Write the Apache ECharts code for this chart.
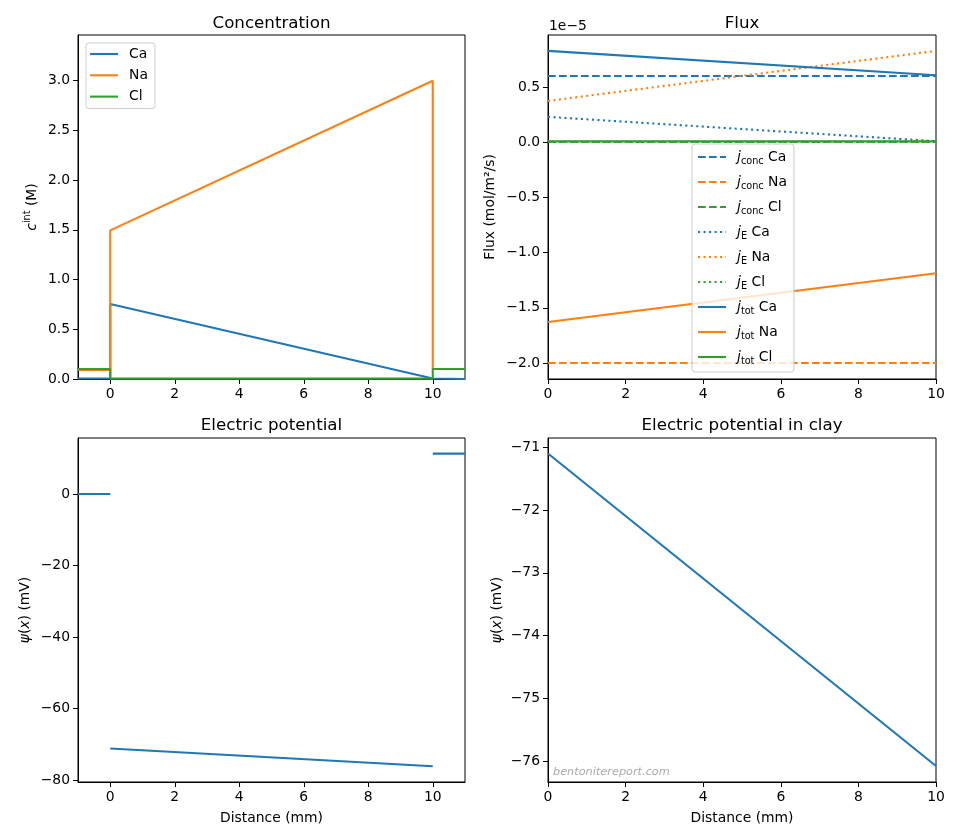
<!DOCTYPE html>
<html><head><meta charset="utf-8">
<script src="https://cdn.jsdelivr.net/npm/echarts@6/dist/echarts.min.js"></script>
<style>html,body{margin:0;padding:0;background:#fff}#c{width:960px;height:840px}</style>
</head><body><div id="c"></div>
<script>
const FONT = 'DejaVu Sans';
const C1 = '#1f77b4', C2 = '#ff7f0e', C3 = '#2ca02c';

// ---- Concentration (M) ----
const concX  = [-1, 0, 0, 10, 10, 11];
const concCa = [0.005, 0.005, 0.755, 0.005, 0.0, 0.0];
const concNa = [0.09, 0.09, 1.495, 3.0, 0.1, 0.1];
const concCl = [0.1, 0.1, 0.004, 0.004, 0.1, 0.1];

// ---- Flux (units of 1e-5 mol/m2/s) ----
const fluxX   = [0, 10];
const jConcCa = [0.60, 0.60];
const jConcNa = [-2.0, -2.0];
const jConcCl = [0.005, 0.005];
const jECa    = [0.23, 0.01];
const jENa    = [0.375, 0.828];
const jECl    = [0.003, 0.003];
const jTotCa  = [0.828, 0.607];
const jTotNa  = [-1.628, -1.186];
const jTotCl  = [0.008, 0.008];

// ---- Electric potential (mV) ----
const potLeftX  = [-1, 0];   const potLeft  = [0, 0];
const potClayX  = [0, 10];   const potClay  = [-71.1, -76.08];
const potRightX = [10, 11];  const potRight = [11.26, 11.26];

// ---- Ticks ----
const concXTicks = [0, 2, 4, 6, 8, 10];
const concYTicks = [0, 0.5, 1, 1.5, 2, 2.5, 3];
const fluxXTicks = [0, 2, 4, 6, 8, 10];
const fluxYTicks = [-2, -1.5, -1, -0.5, 0, 0.5];
const potYTicks  = [-80, -60, -40, -20, 0];
const clayYTicks = [-76, -75, -74, -73, -72, -71];

const minus = s => String(s).replace('-', '\u2212');
const fmt = d => v => minus(Number(v).toFixed(d));

const grids = [
  {left: 78,  top: 35,  width: 387, height: 344},
  {left: 548, top: 35,  width: 388, height: 344},
  {left: 78,  top: 438, width: 387, height: 344},
  {left: 548, top: 438, width: 388, height: 344}
].map(g => Object.assign(g, {show: true, borderColor: '#000', borderWidth: 1, backgroundColor: 'transparent'}));

const labelStyle = {color: '#000', fontFamily: FONT, fontSize: 13.9};
function axis(kind, gi, min, max, ticks, dec, name, nameGap, rich) {
  return {
    type: 'value', gridIndex: gi, min, max,
    axisLine: {show: true, onZero: false, lineStyle: {color: '#000', width: 1}},
    axisTick: {show: true, customValues: ticks, length: 5, inside: false, lineStyle: {color: '#000', width: 1}},
    axisLabel: Object.assign({customValues: ticks, formatter: fmt(dec), margin: 8}, labelStyle),
    splitLine: {show: false},
    name: name || '', nameLocation: 'middle', nameGap: nameGap || 0,
    nameTextStyle: Object.assign({rich: rich || {}}, labelStyle)
  };
}
const richPsi = {i: {fontStyle: 'italic', fontFamily: FONT, fontSize: 13.9, color: '#000'}};
const richC = {
  i: {fontStyle: 'italic', fontFamily: FONT, fontSize: 13.9, color: '#000', lineHeight: 20},
  sup: {fontFamily: FONT, fontSize: 9.7, color: '#000', verticalAlign: 'top', lineHeight: 20}
};

const xAxes = [
  axis('x', 0, -1, 11, concXTicks, 0),
  axis('x', 1, 0, 10, fluxXTicks, 0),
  axis('x', 2, -1, 11, concXTicks, 0, 'Distance (mm)', 29),
  axis('x', 3, 0, 10, fluxXTicks, 0, 'Distance (mm)', 29)
];
const yAxes = [
  axis('y', 0, 0, 3.46, concYTicks, 1, '{i|c}{sup|int} (M)', 36, richC),
  axis('y', 1, -2.145, 0.972, fluxYTicks, 1, 'Flux (mol/m\u00b2/s)', 51),
  axis('y', 2, -80.47, 15.63, potYTicks, 0, '{i|\u03c8}({i|x}) (mV)', 46, richPsi),
  axis('y', 3, -76.335, -70.852, clayYTicks, 0, '{i|\u03c8}({i|x}) (mV)', 44, richPsi)
];

function line(name, xs, ys, color, type, gi) {
  return {
    type: 'line', name, xAxisIndex: gi, yAxisIndex: gi,
    data: xs.map((x, i) => [x, ys[i]]),
    symbol: 'none', showSymbol: false, animation: false,
    lineStyle: {color, width: 2.08, type},
    itemStyle: {color}
  };
}
const DASH = [7.7, 3.3], DOT = [2.1, 3.4];

const series = [
  line('Ca', concX, concCa, C1, 'solid', 0),
  line('Na', concX, concNa, C2, 'solid', 0),
  line('Cl', concX, concCl, C3, 'solid', 0),
  line('j_conc Ca', fluxX, jConcCa, C1, DASH, 1),
  line('j_conc Na', fluxX, jConcNa, C2, DASH, 1),
  line('j_conc Cl', fluxX, jConcCl, C3, DASH, 1),
  line('j_E Ca', fluxX, jECa, C1, DOT, 1),
  line('j_E Na', fluxX, jENa, C2, DOT, 1),
  line('j_E Cl', fluxX, jECl, C3, DOT, 1),
  line('j_tot Ca', fluxX, jTotCa, C1, 'solid', 1),
  line('j_tot Na', fluxX, jTotNa, C2, 'solid', 1),
  line('j_tot Cl', fluxX, jTotCl, C3, 'solid', 1),
  line('psiL', potLeftX, potLeft, C1, 'solid', 2),
  line('psiC', potClayX, potClay, C1, 'solid', 2),
  line('psiR', potRightX, potRight, C1, 'solid', 2),
  line('psiClay', potClayX, potClay, C1, 'solid', 3)
];

const titleStyle = {fontFamily: FONT, fontSize: 16.7, fontWeight: 'normal', color: '#000'};
const titles = [
  {text: 'Concentration', left: 271.5, top: 15},
  {text: 'Flux', left: 742, top: 15},
  {text: 'Electric potential', left: 271.5, top: 417},
  {text: 'Electric potential in clay', left: 742, top: 417}
].map(t => Object.assign(t, {textAlign: 'center', padding: 0, textStyle: titleStyle}));

const legendBase = {
  orient: 'vertical', itemWidth: 28, itemHeight: 14,
  backgroundColor: 'rgba(255,255,255,0.8)', borderColor: '#cccccc', borderWidth: 1, borderRadius: 3,
  inactiveColor: '#ccc', selectedMode: false,
  itemStyle: {color: 'rgba(0,0,0,0)', opacity: 0, borderWidth: 0},
  lineStyle: {width: 2.08}
};
const legendRich = {
  i: {fontStyle: 'italic', fontFamily: FONT, fontSize: 13.9, color: '#000', lineHeight: 18},
  s: {fontFamily: FONT, fontSize: 9.7, color: '#000', verticalAlign: 'bottom', lineHeight: 18},
  t: {fontFamily: FONT, fontSize: 13.9, color: '#000', lineHeight: 18}
};
const legends = [
  Object.assign({}, legendBase, {
    left: 86, top: 43, padding: [4, 7, 5, 3], itemGap: 7.3,
    data: ['Ca', 'Na', 'Cl'],
    textStyle: {fontFamily: FONT, fontSize: 13.9, color: '#000', lineHeight: 14, padding: [0, 0, 0, 6]}
  }),
  Object.assign({}, legendBase, {
    left: 692, top: 144, padding: [6, 7, 6, 5], itemGap: 9,
    data: ['j_conc Ca', 'j_conc Na', 'j_conc Cl', 'j_E Ca', 'j_E Na', 'j_E Cl', 'j_tot Ca', 'j_tot Na', 'j_tot Cl'],
    formatter: n => {
      const m = n.match(/^j_(\w+) (\w+)$/);
      return '{i|j}{s|' + m[1] + '}{t| ' + m[2] + '}';
    },
    textStyle: {fontFamily: FONT, fontSize: 13.9, color: '#000', rich: legendRich, padding: [0, 0, 0, 6]}
  })
];

const chart = echarts.init(document.getElementById('c'), null, {renderer: 'canvas'});
chart.setOption({
  backgroundColor: '#fff',
  animation: false,
  title: titles,
  grid: grids,
  xAxis: xAxes,
  yAxis: yAxes,
  legend: legends,
  series,
  graphic: [
    {type: 'text', left: 549, top: 19, style: {text: '1e\u22125', fontFamily: FONT, fontSize: 13.9, fill: '#000'}},
    {type: 'text', left: 553, top: 767, style: {text: 'bentonitereport.com', fontFamily: FONT, fontStyle: 'italic', fontSize: 11.3, fill: '#aaaaaa'}}
  ]
});
</script>
</body></html>
